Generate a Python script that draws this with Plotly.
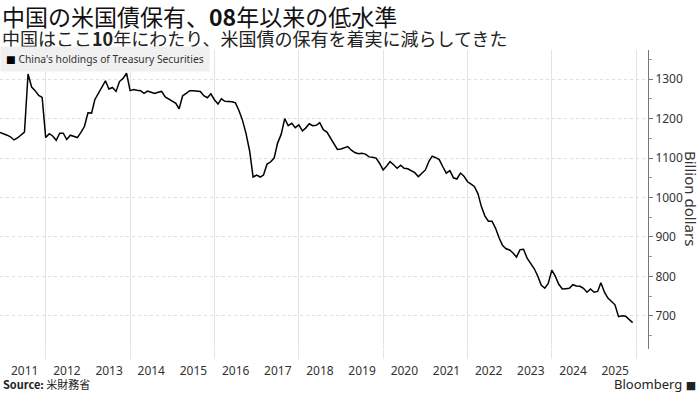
import pandas as pd
import plotly.graph_objects as go

# Monthly (month-end) holdings, Nov 2010 - Nov 2025, billion dollars
start_month = "2010-11-30"
end_month = "2025-11-30"
holdings = [
    1165, 1162,                                                        # 2010 Nov-Dec
    1158, 1154, 1146, 1151, 1159, 1166, 1313, 1280, 1271, 1259, 1254, 1152,  # 2011
    1162, 1156, 1145, 1163, 1163, 1147, 1158, 1154, 1152, 1165, 1180, 1215,  # 2012
    1214, 1248, 1265, 1282, 1296, 1275, 1279, 1269, 1294, 1302, 1315, 1271,  # 2013
    1274, 1272, 1271, 1264, 1270, 1267, 1264, 1267, 1269, 1255, 1250, 1244,  # 2014
    1239, 1225, 1258, 1264, 1271, 1271, 1270, 1269, 1258, 1253, 1263, 1248,  # 2015
    1237, 1250, 1244, 1243, 1243, 1240, 1220, 1195, 1162, 1118, 1052, 1057,  # 2016
    1052, 1057, 1085, 1090, 1100, 1138, 1160, 1200, 1182, 1188, 1177, 1184,  # 2017
    1169, 1176, 1187, 1182, 1183, 1190, 1172, 1166, 1152, 1139, 1122, 1123,  # 2018
    1126, 1129, 1120, 1114, 1111, 1112, 1110, 1103, 1102, 1100, 1087, 1070,  # 2019
    1080, 1091, 1083, 1074, 1082, 1074, 1073, 1068, 1063, 1053, 1061, 1070,  # 2020
    1092, 1105, 1101, 1096, 1078, 1062, 1068, 1050, 1047, 1062, 1054, 1040,  # 2021
    1034, 1028, 1010, 977, 953, 940, 940, 922, 898, 878, 870, 867,           # 2022
    859, 849, 868, 869, 846, 834, 820, 801, 778, 770, 782, 816,              # 2023
    800, 780, 768, 769, 770, 779, 776, 775, 770, 760, 768, 760,              # 2024
    762, 784, 760, 745, 736, 728, 698, 700, 699, 690, 683,                   # 2025
]
year_labels = [str(y) for y in range(2011, 2026)]
grid_years = list(range(2012, 2027, 2))
y_ticks = [700, 800, 900, 1000, 1100, 1200, 1300]

dates = pd.date_range(start_month, end_month, freq="ME")

LATIN = "Noto Sans, DejaVu Sans, sans-serif"
CJK = "Noto Sans CJK JP, Noto Sans, sans-serif"

fig = go.Figure()
fig.add_trace(go.Scatter(
    x=dates, y=holdings, mode="lines",
    line=dict(color="#000000", width=1.5),
    showlegend=False, hoverinfo="skip",
))

fig.update_layout(
    width=700, height=394,
    margin=dict(l=0, r=52, t=50, b=45),
    paper_bgcolor="white", plot_bgcolor="white",
    font=dict(family=LATIN, color="#333333", size=12),
    xaxis=dict(
        range=["2010-11-30", "2026-04-12"],
        tickvals=[f"{y}-07-02" for y in year_labels],
        ticktext=year_labels,
        ticks="outside", ticklen=11, tickcolor="rgba(0,0,0,0)",
        showgrid=False, showline=False, zeroline=False,
        tickfont=dict(size=12, color="#333333", family=LATIN),
        minor=dict(
            tickvals=[f"{y}-01-01" for y in grid_years],
            showgrid=True, gridcolor="#e3e3e3", gridwidth=1,
            ticks="outside", ticklen=9, tickcolor="#e3e3e3", tickwidth=1,
        ),
    ),
    yaxis=dict(
        side="right",
        range=[616, 1374],
        tickvals=y_ticks,
        showgrid=True, gridcolor="#dedede", griddash="dot", gridwidth=1,
        showline=True, linecolor="#777777", linewidth=1,
        ticks="outside", ticklen=4, tickcolor="#777777",
        zeroline=False,
        tickfont=dict(size=12, color="#333333", family=LATIN),
        minor=dict(dtick=50, ticks="outside", ticklen=3, tickcolor="#999999", showgrid=False),
    ),
)

ann = []
ann.append(dict(
    text="中国の米国債保有、<b>08</b>年以来の低水準",
    xref="paper", yref="paper", x=0.0, y=(349 - 16.5) / 299,
    xanchor="left", yanchor="middle", showarrow=False, xshift=1,
    borderpad=0,
    font=dict(family=CJK, size=23, color="#111111"),
))
ann.append(dict(
    text="中国はここ<b>10</b>年にわたり、米国債の保有を着実に減らしてきた",
    xref="paper", yref="paper", x=0.0, y=(349 - 38.5) / 299,
    xanchor="left", yanchor="middle", showarrow=False, xshift=1,
    borderpad=0,
    font=dict(family=CJK, size=18, color="#222222"),
))
ann.append(dict(
    text="<span style='color:#000000'>■</span> China's holdings of Treasury Securities",
    xref="paper", yref="paper", x=0.0, y=(349 - 59.5) / 299,
    xanchor="left", yanchor="middle", showarrow=False,
    bgcolor="#f0f0f0", borderpad=5,
    font=dict(family=LATIN, size=10.3, color="#333333"),
))
ann.append(dict(
    text="Billion dollars",
    xref="paper", yref="paper", x=1.0, y=(349 - 198) / 299,
    xanchor="center", yanchor="middle", showarrow=False, xshift=43,
    textangle=90,
    font=dict(family=LATIN, size=15, color="#333333"),
))
ann.append(dict(
    text="<b>Source:</b> 米財務省",
    xref="paper", yref="paper", x=0.0, y=(349 - 384) / 299,
    xanchor="left", yanchor="middle", showarrow=False, xshift=1,
    font=dict(family=CJK, size=11, color="#222222"),
))
ann.append(dict(
    text="Bloomberg <span style='font-size:11px'>■</span>",
    xref="paper", yref="paper", x=1.0, y=(349 - 384) / 299,
    xanchor="right", yanchor="middle", showarrow=False, xshift=50,
    font=dict(family=LATIN, size=13, color="#222222"),
))
fig.update_layout(annotations=ann)

fig.write_html(
    "out.html",
    config={"displayModeBar": False},
    post_script="document.body.style.margin='0';",
)
